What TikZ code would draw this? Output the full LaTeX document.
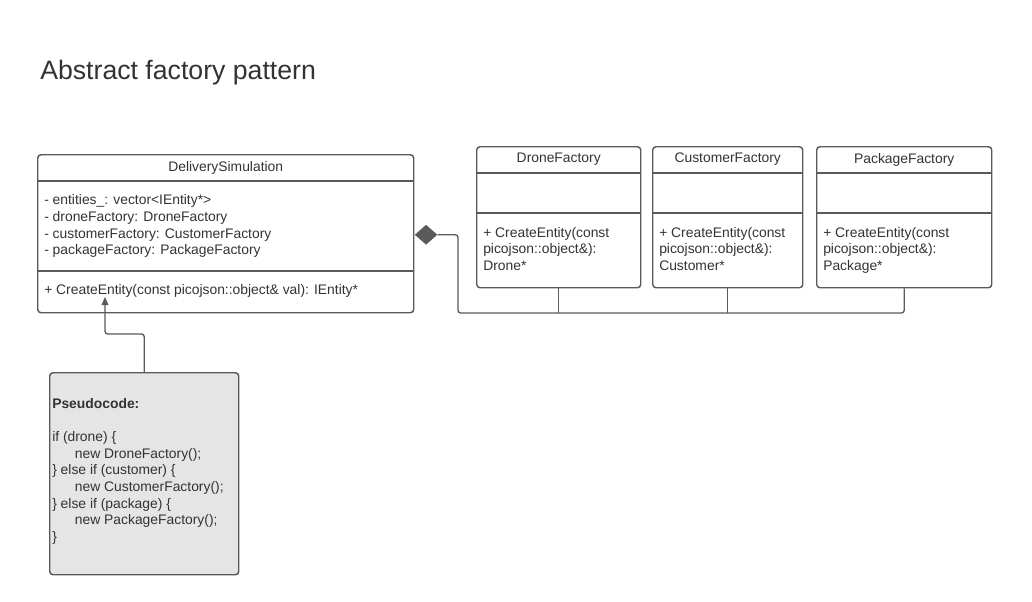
\documentclass[tikz,border=0pt]{standalone}
\usepackage{fontspec}
\setmainfont{Liberation Sans}
\usetikzlibrary{positioning,calc,shapes.geometric,arrows.meta}
\definecolor{linegray}{HTML}{5A5A5A}
\definecolor{textgray}{HTML}{333333}
\definecolor{notefill}{HTML}{E5E5E5}

\begin{document}
\begin{tikzpicture}[x=0.75pt,y=-0.75pt,
            classbox/.style={draw=linegray, line width=1.1pt, rounded corners=2.5pt, anchor=north west, inner sep=0pt},
            txt/.style={text=textgray, inner sep=0pt, font=\fontsize{10.4}{12.5}\selectfont},
            member/.style={txt, anchor=west},
            divider/.style={draw=linegray, line width=1.1pt},
            conn/.style={draw=linegray, line width=1pt, rounded corners=2pt}
        ]
            \useasboundingbox[fill=white] (0,0) rectangle (1032,601);

            % Title
            \node[txt, anchor=west, font=\fontsize{20}{24}\selectfont] (title) at (40,73) {Abstract factory pattern};

            % DeliverySimulation class
            \node[classbox, minimum width=282pt, minimum height=118.5pt] (sim) at (37,154) {};
            \node[txt] (simname) at ($(sim.north)+(0,14)$) {DeliverySimulation};
            \draw[divider] ($(sim.north west)+(0,27)$) -- ($(sim.north east)+(0,27)$);
            \draw[divider] ($(sim.north west)+(0,117)$) -- ($(sim.north east)+(0,117)$);
            \node[member] (attr1) at (44,201) {- entities\_: vector<IEntity*>};
            \node[member] (attr2) at (44,218) {- droneFactory: DroneFactory};
            \node[member] (attr3) at (44,235) {- customerFactory: CustomerFactory};
            \node[member] (attr4) at (44,251) {- packageFactory: PackageFactory};
            \node[member] (simop) at (44,291) {+ CreateEntity(const picojson::object\& val): IEntity*};

            % Factories
            \node[classbox, minimum width=123pt, minimum height=105.75pt] (drone) at (476,146) {};
            \node[classbox, minimum width=112.5pt, minimum height=105.75pt] (customer) at (652,146) {};
            \node[classbox, minimum width=131.25pt, minimum height=105.75pt] (package) at (816,146) {};

            \node[txt] (dronename) at ($(drone.north)+(0,13.5)$) {DroneFactory};
            \node[txt] (customername) at ($(customer.north)+(0,13.5)$) {CustomerFactory};
            \node[txt] (packagename) at ($(package.north)+(0,13.5)$) {PackageFactory};

            \draw[divider] ($(drone.north west)+(0,27)$) -- ($(drone.north east)+(0,27)$);
            \draw[divider] ($(drone.north west)+(0,67)$) -- ($(drone.north east)+(0,67)$);
            \draw[divider] ($(customer.north west)+(0,27)$) -- ($(customer.north east)+(0,27)$);
            \draw[divider] ($(customer.north west)+(0,67)$) -- ($(customer.north east)+(0,67)$);
            \draw[divider] ($(package.north west)+(0,27)$) -- ($(package.north east)+(0,27)$);
            \draw[divider] ($(package.north west)+(0,67)$) -- ($(package.north east)+(0,67)$);

            \node[txt, anchor=north west, align=left] (droneop) at ($(drone.north west)+(7,81)$) {+ CreateEntity(const\\picojson::object\&):\\Drone*};
            \node[txt, anchor=north west, align=left] (customerop) at ($(customer.north west)+(7,81)$) {+ CreateEntity(const\\picojson::object\&):\\Customer*};
            \node[txt, anchor=north west, align=left] (packageop) at ($(package.north west)+(7,81)$) {+ CreateEntity(const\\picojson::object\&):\\Package*};

            % Composition
            \node[diamond, fill=linegray, inner sep=0pt, minimum width=17pt, minimum height=15pt, anchor=west] (comp) at ($(sim.east)+(0,1)$) {};
            \coordinate (busL) at (458,313);
            \draw[conn] (comp.east) -| (busL) -| (package.south);
            \draw[conn] (drone.south) -- (drone.south |- busL);
            \draw[conn] (customer.south) -- (customer.south |- busL);

            % Pseudocode note
            \node[classbox, fill=notefill, minimum width=141.75pt, minimum height=151.5pt] (pseudo) at (49,372) {};
            \node[txt, anchor=north west, align=left] (pseudotext) at (52,398) {\textbf{Pseudocode:}\\[12.5pt]
                if (drone) \{\\
                \hspace*{17pt}new DroneFactory();\\
                \} else if (customer) \{\\
                \hspace*{17pt}new CustomerFactory();\\
                \} else if (package) \{\\
                \hspace*{17pt}new PackageFactory();\\
                \}};

            \coordinate (usetip) at (105,297);
            \draw[conn, -{Triangle[length=6pt,width=5pt]}] (pseudo.north) |- ($(usetip)+(0,37)$) -- (usetip);

        \end{tikzpicture}
\end{document}
